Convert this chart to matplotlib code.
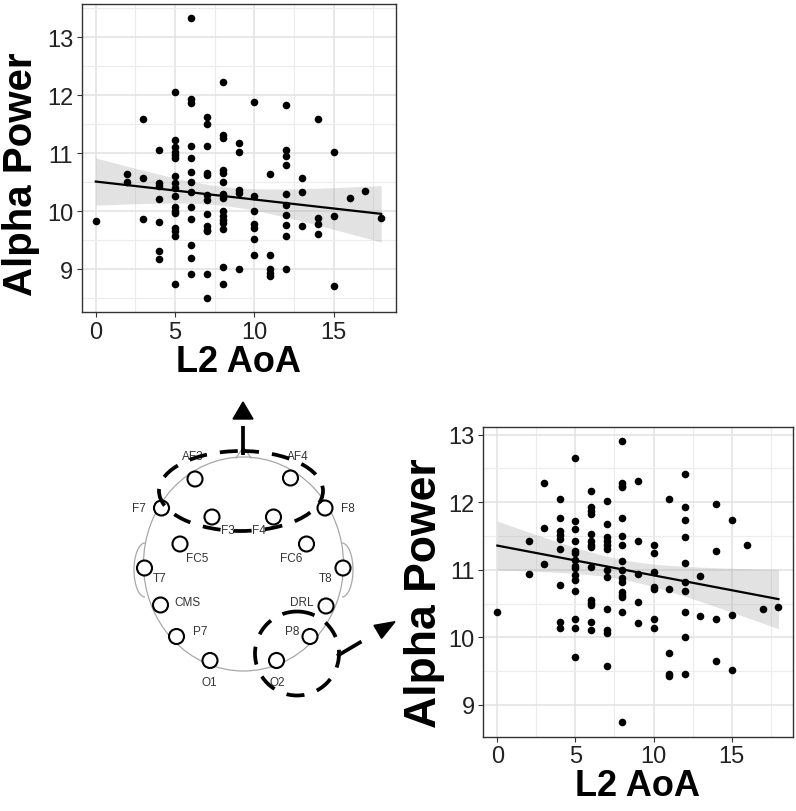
import numpy as np
import matplotlib
matplotlib.use("Agg")
import matplotlib.pyplot as plt
from matplotlib.patches import Circle, Ellipse, Arc, Polygon
from matplotlib.ticker import MultipleLocator

plt.rcParams["font.family"] = ["Liberation Sans", "DejaVu Sans"]

# ---- data (L2 AoA vs alpha power) ----
aoa_levels = [0, 2, 3, 4, 5, 6, 7, 8, 9, 10, 11, 12, 13, 14, 15, 16, 17, 18]

# frontal cluster (top panel)
frontal_alpha = [
    [9.83],
    [10.64, 10.51],
    [11.59, 10.57, 9.87],
    [11.05, 10.48, 10.43, 10.21, 9.81, 9.32, 9.18],
    [12.05, 11.23, 11.11, 11.03, 10.97, 10.91, 10.60, 10.48, 10.40, 10.26,
     10.07, 10.00, 9.97, 9.71, 9.66, 9.57, 8.75],
    [13.34, 11.94, 11.86, 11.12, 10.92, 10.68, 10.51, 10.34, 10.08, 9.87,
     9.41, 9.20, 8.92],
    [11.62, 11.50, 11.12, 10.66, 10.63, 10.28, 10.20, 9.96, 9.74, 9.68,
     9.66, 8.92, 8.50],
    [12.22, 11.31, 11.26, 10.72, 10.66, 10.50, 10.30, 10.23, 10.00, 9.91,
     9.85, 9.80, 9.69, 9.04, 8.75],
    [11.17, 11.03, 10.37, 10.31, 9.01],
    [11.89, 10.27, 10.01, 9.78, 9.71, 9.53, 9.24],
    [10.64, 9.24, 9.00, 8.94, 8.88],
    [11.84, 11.05, 10.95, 10.80, 10.30, 10.11, 9.94, 9.76, 9.57, 9.00],
    [10.58, 10.34, 9.74],
    [11.59, 9.88, 9.78, 9.60],
    [11.03, 9.91, 8.71],
    [10.23],
    [10.35],
    [9.88],
]

# occipital-right cluster (bottom panel)
occipital_alpha = [
    [10.38],
    [11.42, 10.93],
    [12.28, 11.62, 11.09],
    [12.04, 11.76, 11.58, 11.51, 11.46, 11.31, 10.78, 10.23, 10.14],
    [12.66, 11.72, 11.61, 11.42, 11.28, 11.25, 11.14, 11.06, 11.03, 10.92,
     10.85, 10.69, 10.27, 10.14, 9.71],
    [12.17, 11.93, 11.87, 11.83, 11.53, 11.43, 11.37, 11.34, 11.04, 10.55,
     10.51, 10.48, 10.23, 10.11],
    [12.02, 11.67, 11.48, 11.43, 11.37, 11.30, 11.00, 10.89, 10.42, 10.11,
     10.07, 9.57],
    [12.90, 12.28, 12.24, 12.22, 11.76, 11.50, 11.37, 11.13, 11.00, 10.88,
     10.82, 10.67, 10.62, 10.60, 10.38, 8.74],
    [12.32, 11.42, 10.94, 10.52, 10.21],
    [11.36, 11.25, 10.97, 10.75, 10.71, 10.27, 10.14],
    [12.04, 10.71, 9.77, 9.46, 9.42],
    [12.41, 11.93, 11.74, 11.48, 11.10, 10.82, 10.69, 10.38, 10.01, 9.46],
    [10.90, 10.31],
    [11.98, 11.27, 10.27, 9.65],
    [11.74, 10.33, 9.51],
    [11.36],
    [10.42],
    [10.45],
]

# ---- electrode map (diagram units = figure pixels, y down) ----
electrode_names = ["AF3", "AF4", "F7", "F8", "F3", "F4", "FC5", "FC6",
                   "T7", "T8", "CMS", "DRL", "P7", "P8", "O1", "O2"]
electrode_x = [195, 290.5, 161.5, 325, 212, 273.5, 180, 306.5,
               144.5, 343, 160.5, 326, 176.5, 310, 210, 276.5]
electrode_y = [480, 479, 509, 509, 518, 518, 545, 545,
               569, 569, 606, 607, 637.5, 637.5, 661.5, 661.5]
label_x = [192.5, 297.5, 139, 347.5, 228, 259, 197, 291,
           160, 326, 187.5, 301.5, 200, 292, 209, 277]
label_y = [457, 457, 509.5, 509.5, 531, 531, 559, 559,
           579, 579, 603, 603, 632, 632, 683.3, 683.3]


def flatten(levels, groups):
    x = np.repeat(levels, [len(g) for g in groups]).astype(float)
    y = np.concatenate([np.asarray(g, float) for g in groups])
    return x, y


def lm_band(x, y, ngrid=80, t=1.98):
    n = len(x)
    slope, icpt = np.polyfit(x, y, 1)
    resid = y - (icpt + slope * x)
    s = np.sqrt(np.sum(resid ** 2) / (n - 2))
    sxx = np.sum((x - x.mean()) ** 2)
    xs = np.linspace(x.min(), x.max(), ngrid)
    fit = icpt + slope * xs
    se = s * np.sqrt(1.0 / n + (xs - x.mean()) ** 2 / sxx)
    return xs, fit, fit - t * se, fit + t * se


def expand(lo, hi, f=0.05):
    pad = (hi - lo) * f
    return lo - pad, hi + pad


def scatter_panel(ax, x, y, ylab_size, ylab_pos):
    xs, fit, lo, hi = lm_band(x, y)
    ax.fill_between(xs, lo, hi, color="#9a9a9a", alpha=0.28, lw=0, zorder=2)
    ax.plot(xs, fit, color="black", lw=1.6, zorder=3)
    ax.scatter(x, y, s=30, color="black", lw=0, zorder=4)

    ax.set_xlim(*expand(x.min(), x.max()))
    ax.set_ylim(*expand(min(y.min(), lo.min()), max(y.max(), hi.max())))
    ax.xaxis.set_major_locator(MultipleLocator(5))
    ax.xaxis.set_minor_locator(MultipleLocator(2.5))
    ax.yaxis.set_major_locator(MultipleLocator(1))
    ax.yaxis.set_minor_locator(MultipleLocator(0.5))
    ax.set_axisbelow(True)
    ax.grid(which="major", color="#e2e2e2", lw=1.1)
    ax.grid(which="minor", color="#ececec", lw=0.8)
    ax.tick_params(which="minor", length=0)
    ax.tick_params(which="major", length=3.5, width=0.8, color="#333333",
                   labelsize=17, labelcolor="#222222", pad=2.5)
    for sp in ax.spines.values():
        sp.set_color("#333333")
        sp.set_linewidth(1.0)
    ax.set_xlabel("L2 AoA", fontsize=26, fontweight="bold", labelpad=1)
    ax.set_ylabel("Alpha Power", fontsize=ylab_size, fontweight="bold")
    ax.yaxis.set_label_coords(*ylab_pos)


def dashed_arrow(ax, start, tip, head_len, head_half, gap, lw):
    start = np.asarray(start, float)
    tip = np.asarray(tip, float)
    u = (tip - start) / np.hypot(*(tip - start))
    perp = np.array([-u[1], u[0]])
    shaft_end = tip - (head_len + gap) * u
    ax.plot([start[0], shaft_end[0]], [start[1], shaft_end[1]],
            color="black", lw=lw, solid_capstyle="butt", zorder=5)
    base = tip - head_len * u
    ax.add_patch(Polygon([tip, base + head_half * perp, base - head_half * perp],
                         closed=True, color="black", zorder=5))


fig = plt.figure(figsize=(7.96, 8.12), dpi=100)
W, H = 796.0, 812.0

# head diagram drawn on a full-figure overlay in pixel units
axh = fig.add_axes([0, 0, 1, 1], zorder=0)
axh.set_xlim(0, W)
axh.set_ylim(H, 0)
axh.axis("off")

outline = "#a8a8a8"
axh.add_patch(Ellipse((243.5, 565), 200, 214, fill=False, ec=outline, lw=0.9))
axh.plot([236, 243.5, 251], [459, 448, 459], color=outline, lw=0.9)
axh.add_patch(Arc((145, 571), 22, 54, theta1=90, theta2=270, ec=outline, lw=0.9))
axh.add_patch(Arc((342, 571), 22, 54, theta1=-90, theta2=90, ec=outline, lw=0.9))

for name, ex, ey, lx, ly in zip(electrode_names, electrode_x, electrode_y,
                                label_x, label_y):
    axh.add_patch(Circle((ex, ey), 7.5, fc="white", ec="black", lw=1.5, zorder=3))
    axh.text(lx, ly, name, fontsize=8.5, color="#333333", ha="center",
             va="center", zorder=4)

dash = (0, (4.8, 3.5))
axh.add_patch(Ellipse((241, 492), 164, 80, fill=False, ec="black", lw=2.7,
                      ls=dash, zorder=5))
axh.add_patch(Circle((297, 654.5), 42, fill=False, ec="black", lw=2.7,
                     ls=dash, zorder=5))
dashed_arrow(axh, (243, 456), (243, 403), 17, 10, 7, 2.7)
dashed_arrow(axh, (337, 657), (395, 622.7), 20, 7.5, 19, 2.7)

# scatter panels
ax_top = fig.add_axes([81.5 / W, 1 - 313.3 / H, 314 / W, 308.8 / H], zorder=1)
x1, y1 = flatten(aoa_levels, frontal_alpha)
scatter_panel(ax_top, x1, y1, 29, (-0.132, 0.45))

ax_bot = fig.add_axes([483.3 / W, 1 - 737.5 / H, 309.2 / W, 309.2 / H], zorder=1)
x2, y2 = flatten(aoa_levels, occipital_alpha)
scatter_panel(ax_bot, x2, y2, 32, (-0.124, 0.466))

fig.savefig("out.png", dpi=100)
